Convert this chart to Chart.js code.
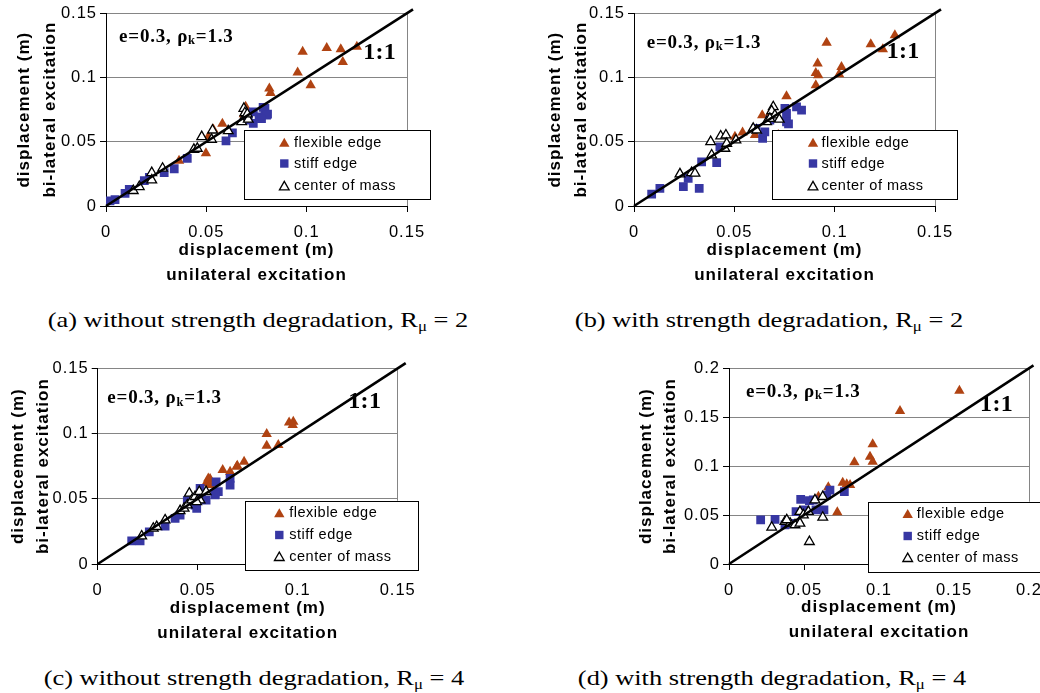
<!DOCTYPE html>
<html><head><meta charset="utf-8">
<script src="https://cdn.jsdelivr.net/npm/chart.js@4.4.1/dist/chart.umd.min.js"></script>
<style>
html,body{margin:0;padding:0;background:#fff;}
body{width:1040px;height:693px;position:relative;overflow:hidden;}
.panel{position:absolute;width:520px;height:300px;}
.cap{position:absolute;white-space:nowrap;font-family:'Liberation Serif','Times New Roman',serif;font-size:22px;line-height:22px;color:#000;transform-origin:center top;transform:translateX(-50%) scaleX(1.2);}
.cap sub{font-size:14px;line-height:0;vertical-align:-4px;}
</style></head><body>
<div class="panel" style="left:0;top:0"><canvas id="cA" width="520" height="300"></canvas></div>
<div class="panel" style="left:520px;top:0"><canvas id="cB" width="520" height="300"></canvas></div>
<div class="panel" style="left:0;top:355px"><canvas id="cC" width="520" height="300"></canvas></div>
<div class="panel" style="left:520px;top:355px"><canvas id="cD" width="520" height="300"></canvas></div>
<div class="cap" style="left:257.5px;top:308.6px">(a) without strength degradation, R<sub>μ</sub> = 2</div>
<div class="cap" style="left:769px;top:308.6px">(b) with strength degradation, R<sub>μ</sub> = 2</div>
<div class="cap" style="left:254px;top:666.6px">(c) without strength degradation, R<sub>μ</sub> = 4</div>
<div class="cap" style="left:772px;top:666.6px">(d) with strength degradation, R<sub>μ</sub> = 4</div>
<script>
// ---------- data (x = unilateral, y = bi-lateral displacement, m) ----------
const seriesNames = ['flexible edge', 'stiff edge', 'center of mass'];
const xTitle = ['displacement (m)', 'unilateral excitation'];
const yTitle = ['displacement (m)', 'bi-lateral excitation'];
const ticks015 = ['0', '0.05', '0.1', '0.15'];
const ticks020 = ['0', '0.05', '0.1', '0.15', '0.2'];

const flexA = [[0.098,0.120],[0.110,0.123],[0.117,0.122],[0.118,0.112],[0.125,0.124],[0.0955,0.104],[0.102,0.094],[0.0814,0.0915],[0.082,0.088],[0.0696,0.0772],[0.0687,0.0715],[0.058,0.064],[0.0535,0.0596],[0.051,0.054],[0.0498,0.041],[0.0364,0.0352]];
const stiffA = [[0.002,0.004],[0.0045,0.005],[0.0095,0.0099],[0.0116,0.013],[0.0191,0.0197],[0.0216,0.0223],[0.029,0.026],[0.034,0.029],[0.0405,0.037],[0.0598,0.0507],[0.063,0.057],[0.0734,0.0733],[0.0763,0.0694],[0.0783,0.0767],[0.0805,0.0715],[0.0734,0.0643],[0.0709,0.0668],[0.0792,0.0759],[0.080,0.0707],[0.0775,0.068]];
const comA = [[0.0136,0.0119],[0.0166,0.015],[0.0228,0.0259],[0.0228,0.0202],[0.0282,0.0293],[0.0438,0.044],[0.0455,0.0448],[0.0477,0.0539],[0.0526,0.0518],[0.0531,0.059],[0.0609,0.0585],[0.0687,0.0759],[0.0692,0.0725],[0.0676,0.0655],[0.0709,0.0674],[0.0704,0.0715]];

const flexB = [[0.096,0.127],[0.118,0.126],[0.130,0.133],[0.124,0.122],[0.0915,0.111],[0.0906,0.1036],[0.0918,0.1018],[0.0906,0.094],[0.1034,0.1082],[0.1022,0.1026],[0.076,0.0855],[0.0639,0.0707],[0.0677,0.072],[0.0541,0.0573],[0.0503,0.0539],[0.0508,0.0513],[0.0603,0.0552],[0.0719,0.0552]];
const stiffB = [[0.0088,0.0093],[0.0129,0.0137],[0.0246,0.015],[0.0325,0.0137],[0.027,0.0215],[0.0337,0.0344],[0.0412,0.0337],[0.0428,0.0461],[0.0641,0.0526],[0.0652,0.0577],[0.0608,0.0604],[0.0677,0.0668],[0.076,0.072],[0.076,0.0655],[0.081,0.0772],[0.0835,0.0746],[0.0752,0.0759],[0.077,0.064]];
const comB = [[0.0229,0.0249],[0.0287,0.0259],[0.0304,0.0254],[0.0382,0.05],[0.0387,0.0396],[0.0432,0.0544],[0.0458,0.0552],[0.0453,0.0448],[0.0462,0.0487],[0.0508,0.0513],[0.0594,0.0604],[0.0611,0.059],[0.0661,0.0655],[0.0694,0.0772],[0.0686,0.074],[0.0702,0.0707],[0.0724,0.0674],[0.0677,0.0681]];

const flexC = [[0.0845,0.0996],[0.0845,0.0906],[0.0903,0.0912],[0.0957,0.1085],[0.0978,0.109],[0.0975,0.1065],[0.0732,0.0784],[0.0698,0.0753],[0.0662,0.0707],[0.0625,0.072],[0.0562,0.0651],[0.0553,0.0656],[0.0542,0.0618],[0.0562,0.0605],[0.0695,0.0745]];
const stiffC = [[0.017,0.0178],[0.0212,0.0178],[0.0258,0.0247],[0.0337,0.0291],[0.0387,0.035],[0.0412,0.0375],[0.0495,0.0427],[0.0448,0.0485],[0.0512,0.058],[0.0542,0.049],[0.0587,0.0542],[0.0603,0.0554],[0.0592,0.063],[0.0662,0.0656],[0.0662,0.0605],[0.0487,0.0452],[0.0462,0.0465],[0.052,0.0516],[0.0587,0.0529]];
const comC = [[0.022,0.0214],[0.0278,0.0273],[0.0295,0.0286],[0.0337,0.0337],[0.0412,0.0408],[0.0432,0.0427],[0.0448,0.0452],[0.0458,0.0542],[0.047,0.049],[0.0487,0.0516],[0.0508,0.0554],[0.0512,0.049],[0.0542,0.0554],[0.0495,0.0477]];

const flexD = [[0.1536,0.1771],[0.114,0.1564],[0.0958,0.1223],[0.094,0.1097],[0.0958,0.1046],[0.0836,0.1039],[0.0758,0.0831],[0.0785,0.0815],[0.0807,0.0807],[0.0722,0.0528],[0.0662,0.0784],[0.0596,0.0688]];
const stiffD = [[0.0211,0.045],[0.0307,0.0457],[0.0373,0.0399],[0.0478,0.0661],[0.0536,0.0647],[0.0447,0.0535],[0.0507,0.0552],[0.058,0.0552],[0.0633,0.0552],[0.0673,0.0756],[0.0651,0.0705],[0.0769,0.0739],[0.0562,0.0654],[0.0407,0.0416]];
const comD = [[0.0285,0.0375],[0.0373,0.0433],[0.0407,0.0416],[0.044,0.0399],[0.0473,0.0416],[0.0473,0.0535],[0.0496,0.0501],[0.0529,0.0535],[0.0573,0.0654],[0.0625,0.0688],[0.0625,0.0477],[0.0536,0.0228],[0.0385,0.045]];

// 1:1 reference line end points
const lineA = [[0,0],[0.153,0.153]];
const lineB = [[0,0],[0.153,0.153]];
const lineC = [[0,0],[0.154,0.154]];
const lineD = [[0,0],[0.203,0.203]];

// annotation anchors (data coordinates)
const noteA = {e:[0.0065,0.1316], one:[0.1282,0.1193]};
const noteB = {e:[0.0063,0.1267], one:[0.1259,0.1197]};
const noteC = {e:[0.0048,0.1269], one:[0.1253,0.1243]};
const noteD = {e:[0.0113,0.1761], one:[0.1674,0.1625]};

// ---------- styling / layout ----------
const BROWN = '#B04312', BLUE = '#3737A3', GRID = '#858585';
const W = 520, H = 300;
const layouts = {
  A:{left:106, right:407, top:13.3, bottom:206, yTitleX:24, yGap:26, xPadB:12.5,
     legend:{x:244, y:130, w:186, h:69.3, mx:40.3, tx:50, rows:[12.7,33.5,56]}},
  B:{left:114, right:415, top:13.3, bottom:206, yTitleX:35, yGap:26.5, xPadB:12,
     legend:{x:252, y:130, w:185, h:69, mx:41, tx:49.5, rows:[12.7,33.5,56]}},
  C:{left:97.7, right:397.7, top:13.3, bottom:209, yTitleX:18.3, yGap:25, xPadB:9.5,
     legend:{x:245, y:145.7, w:173, h:69.3, mx:34.3, tx:44.3, rows:[12.6,34.3,56]}},
  D:{left:209, right:509, top:13.3, bottom:209, yTitleX:126.7, yGap:24, xPadB:10.5,
     legend:{x:348, y:146.7, w:210, h:70, mx:39.7, tx:48.7, rows:[12.3,34.3,56]}}
};

Chart.defaults.font.family = "'Liberation Sans', Arial, sans-serif";
Chart.defaults.color = '#000';

const toXY = a => a.map(p => ({x:p[0], y:p[1]}));

function tri(ctx, x, y, r) {
  ctx.beginPath();
  ctx.moveTo(x, y - r);
  ctx.lineTo(x + r*0.866, y + r/2);
  ctx.lineTo(x - r*0.866, y + r/2);
  ctx.closePath();
}

const spacingPlugin = {
  id:'spacing',
  beforeDraw(chart){ chart.ctx.letterSpacing = '1px'; },
  afterDraw(chart){ chart.ctx.letterSpacing = '0px'; }
};

const boxLegend = {
  id:'boxLegend',
  afterDatasetsDraw(chart, args, o){
    const c = chart.ctx, L = o.box;
    c.save();
    c.letterSpacing = '0.5px';
    c.fillStyle = '#fff';
    c.fillRect(L.x, L.y, L.w, L.h);
    c.strokeStyle = '#000'; c.lineWidth = 1;
    c.strokeRect(Math.round(L.x)+0.5, Math.round(L.y)+0.5, Math.round(L.w), Math.round(L.h));
    const mx = L.x + L.mx;
    let y = L.y + L.rows[0];
    c.fillStyle = BROWN; tri(c, mx, y + 1, 6); c.fill();
    y = L.y + L.rows[1];
    c.fillStyle = BLUE; c.fillRect(mx - 4.2, y - 4.2, 8.4, 8.4);
    y = L.y + L.rows[2];
    c.fillStyle = '#fff'; c.strokeStyle = '#000'; c.lineWidth = 1.3;
    tri(c, mx, y + 1, 5.6); c.fill(); c.stroke();
    c.fillStyle = '#000';
    c.font = "14.5px 'Liberation Sans', Arial, sans-serif";
    c.textBaseline = 'middle'; c.textAlign = 'left';
    seriesNames.forEach((n, i) => c.fillText(n, L.x + L.tx, L.y + L.rows[i]));
    c.restore();
  }
};

const notes = {
  id:'notes',
  afterDatasetsDraw(chart, args, o){
    const c = chart.ctx, xs = chart.scales.x, ys = chart.scales.y;
    c.save();
    c.fillStyle = '#000'; c.textBaseline = 'middle'; c.textAlign = 'left';
    c.letterSpacing = '0.8px';
    const serif = "'Liberation Serif', 'Times New Roman', serif";
    let x = xs.getPixelForValue(o.note.e[0]);
    const y = ys.getPixelForValue(o.note.e[1]);
    c.font = 'bold 19px ' + serif;
    const s1 = 'e=0.3, \u03C1';
    c.fillText(s1, x, y); x += c.measureText(s1).width;
    c.font = 'bold 12.5px ' + serif;
    c.fillText('k', x, y + 4); x += c.measureText('k').width;
    c.font = 'bold 19px ' + serif;
    c.fillText('=1.3', x, y);
    c.letterSpacing = '0.3px';
    c.font = 'bold 24px ' + serif;
    c.fillText('1:1', xs.getPixelForValue(o.note.one[0]), ys.getPixelForValue(o.note.one[1]));
    c.restore();
  }
};

function makeChart(id, P, flex, stiff, com, line, note, max, tickLabels) {
  const padLeft = P.yTitleX - P.yGap / 2;
  const eq = (a, b) => Math.abs(a - b) < 1e-9;
  return new Chart(document.getElementById(id), {
    type:'scatter',
    data:{datasets:[
      {label:'1:1', type:'line', data:toXY(line), borderColor:'#000', borderWidth:2.6, pointRadius:0, clip:false, order:0, fill:false, tension:0},
      {label:seriesNames[2], data:toXY(com), pointStyle:'triangle', pointRadius:5.6, backgroundColor:'#fff', borderColor:'#000', borderWidth:1.3, order:1},
      {label:seriesNames[1], data:toXY(stiff), pointStyle:'rect', pointRadius:6.2, backgroundColor:BLUE, borderColor:BLUE, borderWidth:0, order:2},
      {label:seriesNames[0], data:toXY(flex), pointStyle:'triangle', pointRadius:6, backgroundColor:BROWN, borderColor:BROWN, borderWidth:0, order:3}
    ]},
    options:{
      responsive:false, animation:false, events:[],
      layout:{autoPadding:false, padding:{left:padLeft, top:P.top, right:W - P.right, bottom:0}},
      plugins:{legend:{display:false}, tooltip:{enabled:false}, boxLegend:{box:P.legend}, notes:{note:note}},
      scales:{
        x:{type:'linear', min:0, max:max,
           ticks:{stepSize:0.05, autoSkip:false, maxRotation:0, padding:11, color:'#000', font:{size:16.5},
                  callback:(v, i) => tickLabels[i]},
           grid:{drawOnChartArea:true, drawTicks:true, tickLength:6, tickColor:'#000', lineWidth:1,
                 color:c => (c.tick && eq(c.tick.value, max)) ? GRID : 'rgba(0,0,0,0)'},
           border:{display:true, color:'#000', width:1},
           title:{display:true, text:xTitle, color:'#000', font:{size:17, weight:'bold', lineHeight:25/17}, padding:{top:0, bottom:P.xPadB}},
           afterFit(s){ s.height = H - P.bottom; s.paddingLeft = 0; s.paddingRight = 0; }
        },
        y:{type:'linear', min:0, max:max,
           ticks:{stepSize:0.05, autoSkip:false, padding:3, color:'#000', font:{size:16.5},
                  callback:(v, i) => tickLabels[i]},
           grid:{drawOnChartArea:true, drawTicks:true, tickLength:6, tickColor:'#000', lineWidth:1,
                 color:c => (c.tick && eq(c.tick.value, 0)) ? 'rgba(0,0,0,0)' : GRID},
           border:{display:true, color:'#000', width:1},
           title:{display:true, text:yTitle, color:'#000', font:{size:17, weight:'bold', lineHeight:P.yGap/17}, padding:{top:0, bottom:0}},
           afterFit(s){ s.width = P.left - padLeft; s.paddingTop = 0; s.paddingBottom = 0; }
        }
      }
    },
    plugins:[spacingPlugin, boxLegend, notes]
  });
}

makeChart('cA', layouts.A, flexA, stiffA, comA, lineA, noteA, 0.15, ticks015);
makeChart('cB', layouts.B, flexB, stiffB, comB, lineB, noteB, 0.15, ticks015);
makeChart('cC', layouts.C, flexC, stiffC, comC, lineC, noteC, 0.15, ticks015);
makeChart('cD', layouts.D, flexD, stiffD, comD, lineD, noteD, 0.2, ticks020);
</script>
</body></html>
